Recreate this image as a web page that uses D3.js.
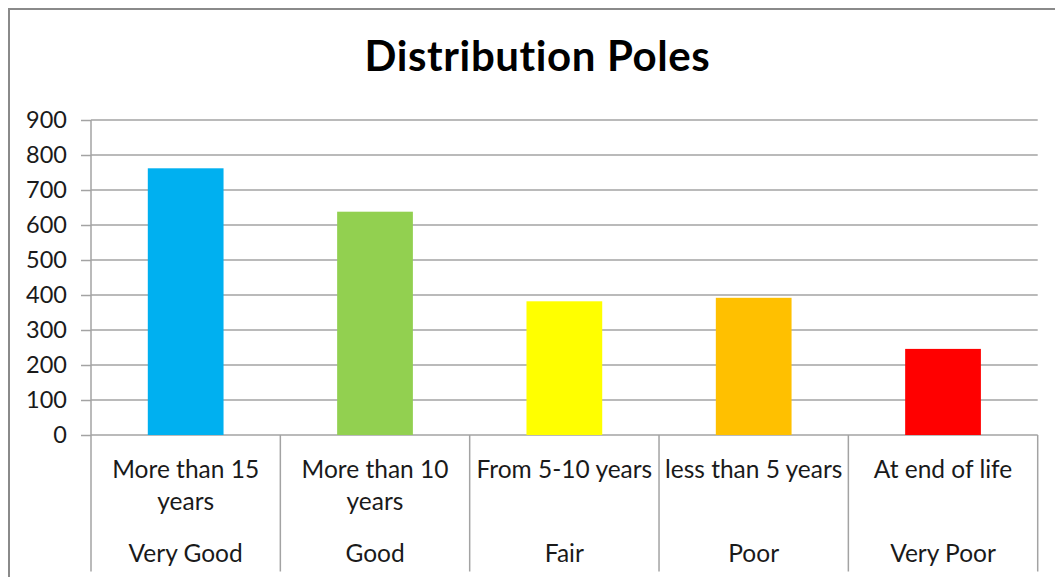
<!DOCTYPE html>
<html>
<head>
<meta charset="utf-8">
<script src="https://cdn.jsdelivr.net/npm/d3@7"></script>
<style>
  html, body { margin: 0; padding: 0; background: #fff; }
  svg { display: block; }
  text { font-family: Lato, "Open Sans", sans-serif; fill: #1a1a1a; font-variant-ligatures: none; }
</style>
</head>
<body>
<svg id="chart" width="1055" height="577"></svg>
<script>
// Pole counts by remaining service life
const categories = ["More than 15\nyears", "More than 10\nyears", "From 5-10 years", "less than 5 years", "At end of life"];
const conditions = ["Very Good", "Good", "Fair", "Poor", "Very Poor"];
const poleCounts = [762, 638, 382, 392, 246];
const barColors = ["#00B0F0", "#92D050", "#FFFF00", "#FFC000", "#FF0000"];
const yTicks = [0, 100, 200, 300, 400, 500, 600, 700, 800, 900];
const chartTitle = "Distribution Poles";

const svg = d3.select("#chart");
const W = 1055, H = 577;

const plot = { left: 91, right: 1037.7, top: 120, bottom: 435 };
const axisBottom = 571.5;
const gridColor = "#a3a3a3";

// Outer chart frame
svg.append("rect")
  .attr("x", 9).attr("y", 9)
  .attr("width", W + 20).attr("height", H + 20)
  .attr("fill", "#fff")
  .attr("stroke", "#8a8a8a")
  .attr("stroke-width", 2);

// Title
svg.append("text")
  .attr("x", 537.5).attr("y", 71)
  .attr("text-anchor", "middle")
  .style("font-weight", "bold")
  .style("font-size", "42px")
  .style("letter-spacing", "0.6px")
  .style("fill", "#000")
  .text(chartTitle);

const x = d3.scaleBand()
  .domain(categories)
  .range([plot.left, plot.right])
  .paddingInner(0.6)
  .paddingOuter(0.3);

const y = d3.scaleLinear()
  .domain([0, 900])
  .range([plot.bottom, plot.top]);

// Horizontal gridlines
svg.append("g")
  .selectAll("line")
  .data(yTicks)
  .join("line")
  .attr("x1", plot.left).attr("x2", plot.right)
  .attr("y1", d => y(d)).attr("y2", d => y(d))
  .attr("stroke", gridColor)
  .attr("stroke-width", 1.5);

// Value axis with outward tick marks
const yAxis = svg.append("g")
  .attr("transform", `translate(${plot.left},0)`)
  .call(d3.axisLeft(y).tickValues(yTicks).tickSize(10).tickPadding(14).tickFormat(d3.format("d")));
yAxis.select(".domain").remove();
yAxis.selectAll(".tick line").attr("stroke", gridColor).attr("stroke-width", 1.5);
yAxis.selectAll(".tick text")
  .style("font-size", "23.5px")
  .style("font-family", "Lato, sans-serif")
  .attr("fill", "#1a1a1a");

// Bars
svg.append("g")
  .selectAll("rect")
  .data(poleCounts)
  .join("rect")
  .attr("x", (d, i) => x(categories[i]))
  .attr("y", d => y(d))
  .attr("width", x.bandwidth())
  .attr("height", d => y(0) - y(d))
  .attr("fill", (d, i) => barColors[i]);

// Category axis: vertical axis and band dividers
svg.append("line")
  .attr("x1", plot.left).attr("x2", plot.left)
  .attr("y1", plot.top).attr("y2", axisBottom)
  .attr("stroke", gridColor).attr("stroke-width", 1.5);

const step = x.step();
const dividers = d3.range(categories.length + 1).map(i => plot.left + i * step);
svg.append("g")
  .selectAll("line")
  .data(dividers.slice(1))
  .join("line")
  .attr("x1", d => d).attr("x2", d => d)
  .attr("y1", plot.bottom).attr("y2", axisBottom)
  .attr("stroke", gridColor)
  .attr("stroke-width", 1.5);

// Category labels (first level, may span two lines)
const labels = svg.append("g");
categories.forEach((c, i) => {
  const cx = x(c) + x.bandwidth() / 2;
  const t = labels.append("text")
    .attr("text-anchor", "middle")
    .style("font-size", "24.5px");
  c.split("\n").forEach((line, k) => {
    t.append("tspan")
      .attr("x", cx)
      .attr("y", 478 + k * 32)
      .text(line);
  });
  // Second level: condition rating
  labels.append("text")
    .attr("x", cx).attr("y", 562)
    .attr("text-anchor", "middle")
    .style("font-size", "24.5px")
    .text(conditions[i]);
});
</script>
</body>
</html>
